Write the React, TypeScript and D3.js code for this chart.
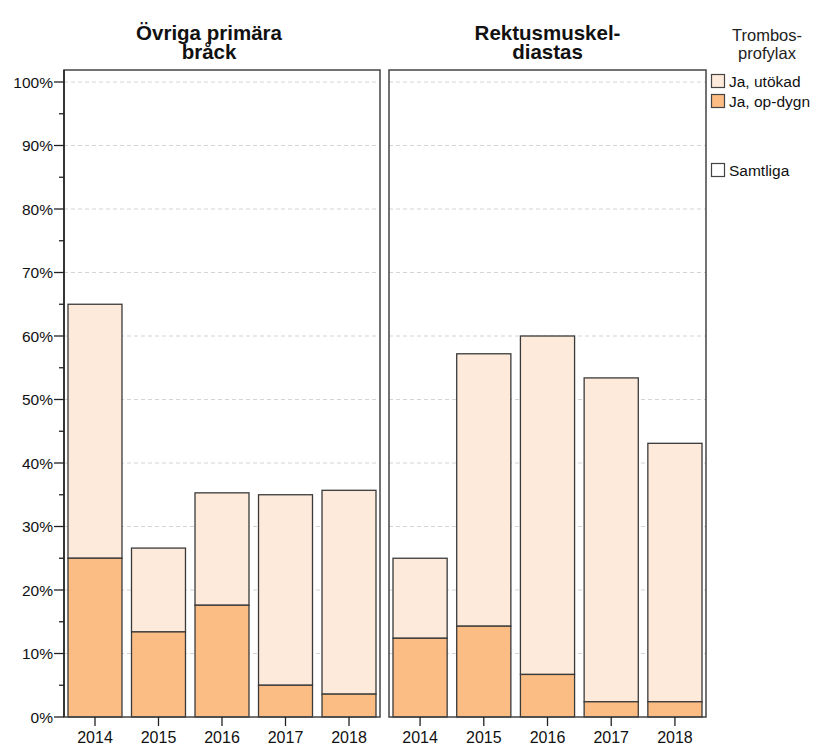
import React from "react";
import * as d3 from "d3";

const years = ["2014", "2015", "2016", "2017", "2018"];
const panels = ["Övriga primära\nbråck", "Rektusmuskel-\ndiastas"];
// Ja, op-dygn (lower segment) per panel, %
const opDygn = [
  [25.0, 13.4, 17.6, 5.0, 3.6],
  [12.4, 14.3, 6.7, 2.4, 2.4],
];
// total (op-dygn + utökad) per panel, %
const totals = [
  [65.0, 26.6, 35.3, 35.0, 35.7],
  [25.0, 57.2, 60.0, 53.4, 43.1],
];
const yTicks = [0, 10, 20, 30, 40, 50, 60, 70, 80, 90, 100];
const legendItems = ["Ja, utökad", "Ja, op-dygn", "Samtliga"];

const W = 816, H = 744;
const FONT = "Liberation Sans, Arial, sans-serif";
const COL_LIGHT = "#fdeadb";
const COL_DARK = "#fbbd84";
const STROKE = "#3a3a3a";

export default function App() {
  const y = d3.scaleLinear().domain([0, 100]).range([717, 82]);
  const panelX = [
    [64, 380],
    [389, 706],
  ];
  const top = 70;
  const bottom = 717;
  const minor = d3.range(5, 100, 10);

  return (
    <svg width={W} height={H} style={{ position: "absolute", left: 0, top: 0, background: "#fff" }} fontFamily={FONT}>
      {panelX.map(([x0, x1], pi) => {
        const xb = d3.scaleBand<string>().domain(years).range([x0 + 4, x1 - 4]).paddingInner(0.15).paddingOuter(0);
        const lines = panels[pi].split("\n");
        const cx = (x0 + x1) / 2 - (pi === 0 ? 13 : 0);
        return (
          <g key={pi}>
            {/* grid */}
            {yTicks.slice(1).map((t) => (
              <line key={t} x1={x0} x2={x1} y1={y(t)} y2={y(t)} stroke="#d4d4d4" strokeDasharray="4,3" strokeWidth={1} />
            ))}
            {/* bars */}
            {years.map((yr, i) => {
              const bx = xb(yr)!;
              const bw = xb.bandwidth();
              return (
                <g key={yr}>
                  <rect x={bx} y={y(totals[pi][i])} width={bw} height={y(opDygn[pi][i]) - y(totals[pi][i])} fill={COL_LIGHT} stroke={STROKE} strokeWidth={1.3} />
                  <rect x={bx} y={y(opDygn[pi][i])} width={bw} height={bottom - y(opDygn[pi][i])} fill={COL_DARK} stroke={STROKE} strokeWidth={1.3} />
                </g>
              );
            })}
            {/* frame */}
            <rect x={x0} y={top} width={x1 - x0} height={bottom - top} fill="none" stroke="#444" strokeWidth={1.5} />
            {/* x ticks */}
            {years.map((yr) => {
              const c = xb(yr)! + xb.bandwidth() / 2;
              return (
                <g key={yr}>
                  <line x1={c} x2={c} y1={bottom} y2={bottom + 9} stroke="#222" strokeWidth={1.3} />
                  <text x={c} y={742.5} textAnchor="middle" fontSize={16} fill="#111">{yr}</text>
                </g>
              );
            })}
            {/* title */}
            {lines.map((l, k) => (
              <text key={k} x={cx} y={40 + k * 19} textAnchor="middle" fontSize={20.5} fontWeight="bold" fill="#111">{l}</text>
            ))}
          </g>
        );
      })}
      {/* y axis */}
      <line x1={64} x2={64} y1={top} y2={bottom} stroke="#222" strokeWidth={1.5} />
      {yTicks.map((t) => (
        <g key={t}>
          <line x1={54} x2={64} y1={y(t)} y2={y(t)} stroke="#222" strokeWidth={1.3} />
          <text x={53} y={y(t) + 5.5} textAnchor="end" fontSize={15.5} fill="#111">{t}%</text>
        </g>
      ))}
      {minor.map((t) => (
        <line key={t} x1={59} x2={64} y1={y(t)} y2={y(t)} stroke="#222" strokeWidth={1.3} />
      ))}
      {/* legend */}
      <text x={767} y={41} textAnchor="middle" fontSize={16.5} fill="#222">Trombos-</text>
      <text x={767} y={58.5} textAnchor="middle" fontSize={16.5} fill="#222">profylax</text>
      {legendItems.map((name, i) => {
        const ly = [74, 94, 163][i];
        const fill = [COL_LIGHT, COL_DARK, "#fff"][i];
        return (
          <g key={name}>
            <rect x={711.5} y={ly + 0.5} width={13} height={13} fill={fill} stroke="#444" strokeWidth={1.2} />
            <text x={729} y={ly + 12.5} fontSize={15.5} fill="#111">{name}</text>
          </g>
        );
      })}
    </svg>
  );
}
